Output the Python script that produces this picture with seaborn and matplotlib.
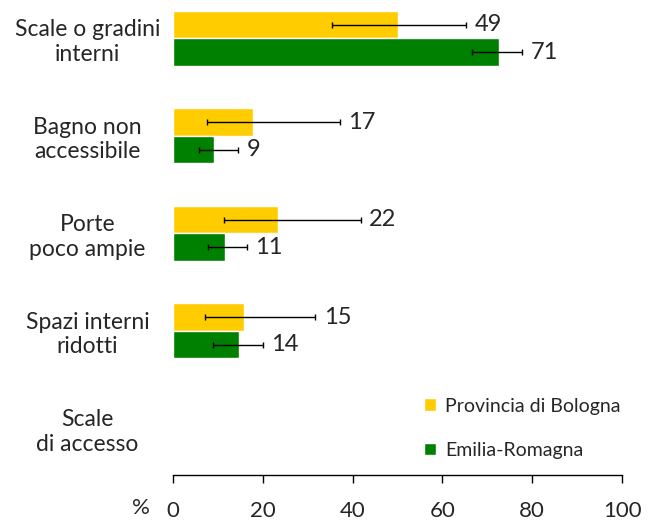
import pandas as pd
import matplotlib.pyplot as plt
import seaborn as sns
from matplotlib.patches import Patch

# categorie (l'ultima senza dati)
categories = ["Scale o gradini\ninterni", "Bagno non\naccessibile", "Porte\npoco ampie",
              "Spazi interni\nridotti", "Scale\ndi accesso"]
series = ["Provincia di Bologna", "Emilia-Romagna"]

# valori
bologna = [50.2, 17.9, 23.3, 15.9]
bologna_low = [35.4, 7.5, 11.3, 7.2]
bologna_high = [65.3, 37.2, 41.8, 31.7]
bologna_labels = ["49", "17", "22", "15"]

emilia = [72.6, 9.2, 11.5, 14.8]
emilia_low = [66.7, 5.8, 7.8, 9.0]
emilia_high = [77.8, 14.5, 16.5, 20.0]
emilia_labels = ["71", "9", "11", "14"]

colors = {"Provincia di Bologna": "#FFCC00", "Emilia-Romagna": "#008000"}

# tabella long-form per seaborn
rows = []
for i in range(len(bologna)):
    rows.append({"cat": categories[i], "serie": series[0], "val": bologna[i]})
    rows.append({"cat": categories[i], "serie": series[1], "val": emilia[i]})
df = pd.DataFrame(rows)

sns.set_style("white")
plt.rcParams['font.family'] = ['Lato', 'DejaVu Sans']

fig = plt.figure(figsize=(6.5, 5.24), dpi=100)
ax = fig.add_axes([0.266, 0.0935, 0.691, 0.9065])

group_w = 0.566
sns.barplot(data=df, y="cat", x="val", hue="serie", order=categories, hue_order=series,
            palette=colors, orient="h", width=group_w, errorbar=None, saturation=1,
            legend=False, ax=ax)

# barre d'errore e etichette
half = group_w / 4
for vals, lo, hi, labs, off in [(bologna, bologna_low, bologna_high, bologna_labels, -half),
                                (emilia, emilia_low, emilia_high, emilia_labels, half)]:
    for i in range(len(vals)):
        y = i + off
        ax.errorbar(vals[i], y, xerr=[[vals[i] - lo[i]], [hi[i] - vals[i]]],
                    fmt="none", ecolor="black", elinewidth=1, capsize=2.5, capthick=1)
        ax.annotate(labs[i], (hi[i], y), xytext=(6, 0), textcoords="offset points",
                    ha="left", va="center", fontsize=17)

ax.set_xlim(0, 100)
ax.set_ylim(4.48, -0.395)
ax.set_xticks([0, 20, 40, 60, 80, 100])
ax.set_xlabel("")
ax.set_ylabel("")

sns.despine(ax=ax, left=True)
ax.spines["bottom"].set_color("black")
ax.spines["bottom"].set_linewidth(1)
ax.tick_params(axis="x", bottom=True, length=6, width=1, color="black", pad=13, labelsize=16)
ax.tick_params(axis="y", left=False, pad=58, labelsize=16.5)
for t in ax.get_yticklabels():
    t.set_ha("center")
    t.set_multialignment("center")

ax.annotate("%", (0, 0), xycoords="axes fraction", xytext=(-23, -24), textcoords="offset points",
            ha="center", va="center", fontsize=16)

handles = [Patch(facecolor=colors[s], label=s) for s in series]
ax.legend(handles=handles, loc="upper left", bbox_to_anchor=(0.52, 0.2), frameon=False,
          fontsize=14, handlelength=0.6, handleheight=0.6, handletextpad=0.5,
          labelspacing=1.4)

fig.savefig("out.png", dpi=100)
